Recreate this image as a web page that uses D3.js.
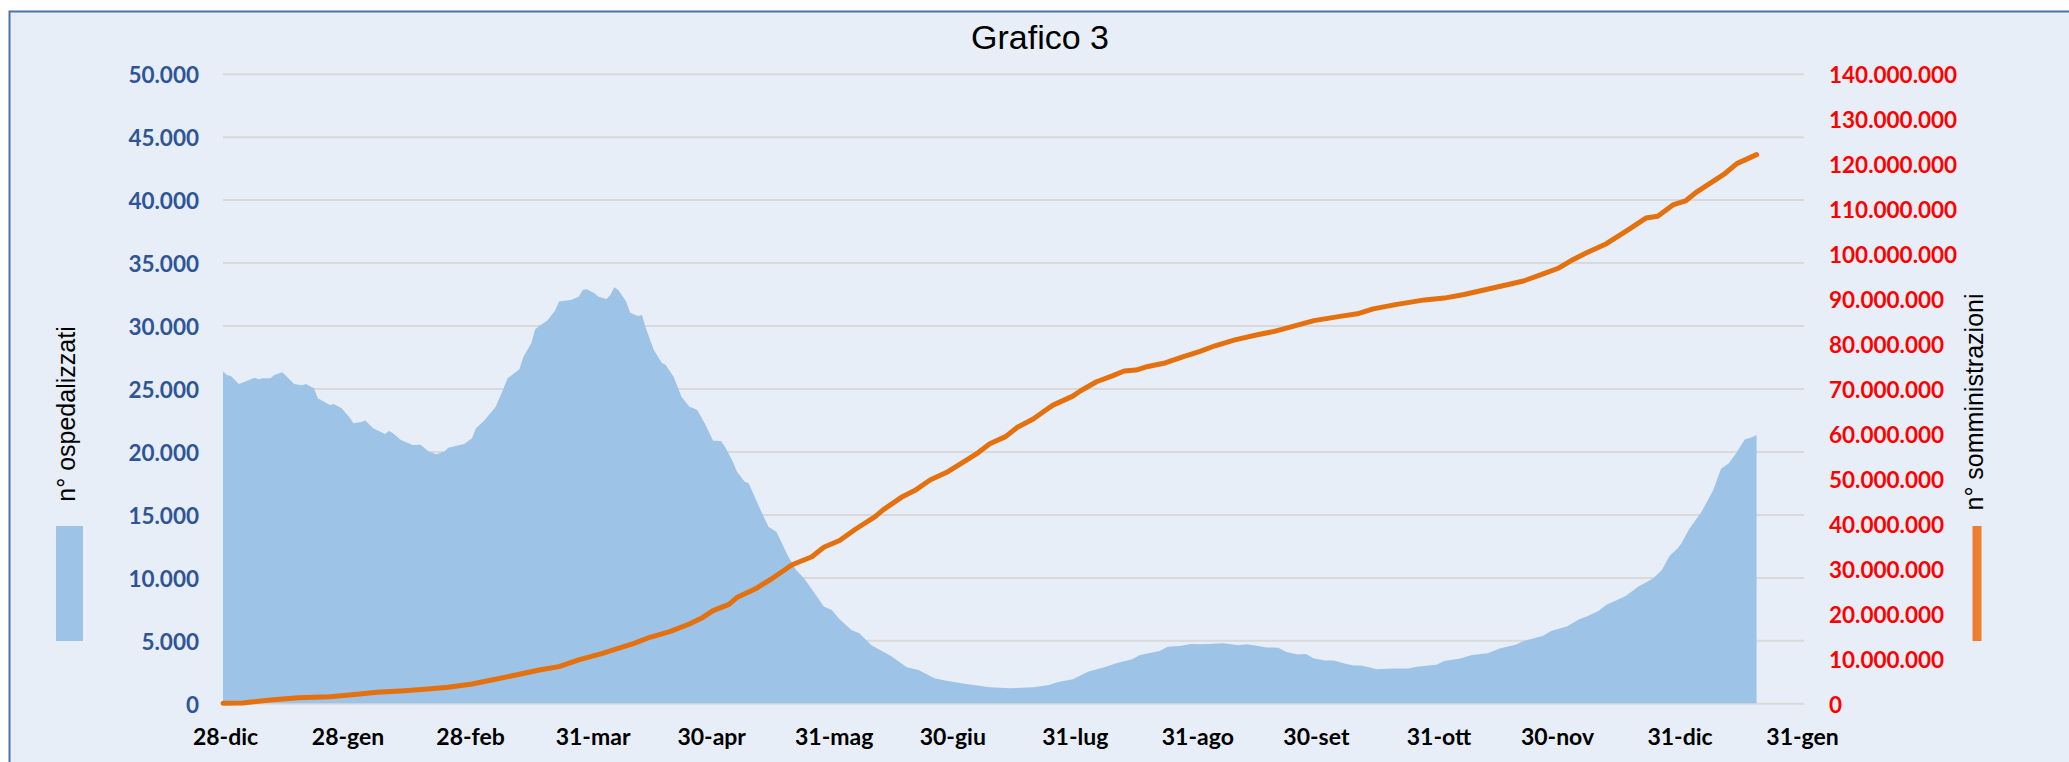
<!DOCTYPE html>
<html>
<head>
<meta charset="utf-8">
<script src="https://cdn.jsdelivr.net/npm/d3@7"></script>
<style>
  html, body { margin: 0; padding: 0; background: #ffffff; }
  svg { display: block; }
</style>
</head>
<body>
<svg id="chart" width="2069" height="762"></svg>
<script>
// ---------------- DATA ----------------
const startDate = "2020-12-28";

// n° ospedalizzati (day offset from startDate, value)
const hospDays = [0,1,2,4,6,8,9,10,12,13,15,16,18,20,21,23,24,27,28,30,32,33,35,36,38,41,42,43,45,48,50,52,54,56,57,58,61,63,64,66,69,71,72,75,76,78,79,80,82,84,85,88,90,91,92,94,95,97,98,99,100,102,103,105,106,107,109,111,112,114,116,118,119,120,122,124,126,127,129,130,
  132,133,136,138,140,143,145,147,150,152,154,156,159,161,164,167,169,173,176,180,183,188,194,199,205,209,211,215,219,223,226,230,232,237,239,242,245,248,253,257,259,262,
  264,267,269,272,274,276,279,281,284,286,288,292,296,300,302,307,309,313,316,320,323,327,329,334,336,340,343,345,348,350,353,355,358,360,362,364,366,368,369,371,374,376,377,379,381,383,385,387,388];
const hospValues = [26350,26070,25990,25360,25600,25860,25730,25810,25810,26070,26290,25990,25360,25250,25360,25010,24220,23690,23770,23430,22710,22240,22340,22450,21840,21390,21630,21440,20910,20510,20540,19990,19770,19990,20300,20380,20590,21040,21840,22420,23560,25010,25810,26520,27530,28590,29700,29960,30390,31180,31900,32030,32290,32820,32880,32560,32290,32110,32430,33040,32820,31900,31020,30760,30840,29780,28060,27050,26870,25940,24350,23560,23430,23290,22160,20860,20830,20380,19190,18400,
  17600,17470,15350,14030,13630,11650,10590,9930,8600,7680,7410,6670,5820,5560,4630,4100,3760,2860,2650,1990,1800,1540,1270,1190,1270,1460,1670,1910,2520,2860,3180,3490,3840,4160,4500,4550,4710,4690,4770,4610,4690,4550,
  4440,4410,4070,3870,3920,3550,3400,3400,3140,3000,3000,2710,2770,2770,2910,3060,3350,3550,3840,3980,4360,4640,4930,5360,5740,6090,6660,6890,7330,7820,8250,8540,9260,9600,9980,10560,11710,12290,12720,13870,15170,16320,16900,18630,19060,19930,20940,21140,21310];

// n° somministrazioni (cumulative doses)
const vaxDays = [0,5,12,19,27,32,39,46,51,57,63,68,75,80,85,90,96,100,104,108,113,118,121,124,128,130,135,139,144,149,152,156,160,165,167,172,175,179,183,188,191,194,198,201,205,208,210,215,217,221,225,228,231,234,238,243,247,251,256,262,266,270,276,283,287,291,297,304,309,314,321,326,329,334,338,341,345,350,355,360,363,367,370,373,376,380,383,388];
const vaxValues = [10000,90000,740000,1260000,1480000,1850000,2450000,2800000,3110000,3560000,4300000,5190000,6450000,7410000,8150000,9640000,11120000,12230000,13340000,14680000,15940000,17640000,18900000,20610000,22010000,23500000,25600000,27800000,30800000,32600000,34700000,36200000,38700000,41500000,43000000,46000000,47300000,49700000,51300000,54000000,55700000,57700000,59300000,61400000,63200000,65100000,66300000,68300000,69500000,71500000,72800000,73900000,74100000,74900000,75600000,77100000,78200000,79500000,80800000,82000000,82700000,83650000,85100000,86100000,86600000,87700000,88700000,89700000,90100000,90900000,92300000,93300000,93900000,95500000,96800000,98400000,100200000,102200000,105000000,107900000,108300000,110900000,111700000,113800000,115500000,117800000,120000000,122000000];

const xTickDates = ["2020-12-28","2021-01-28","2021-02-28","2021-03-31","2021-04-30","2021-05-31","2021-06-30","2021-07-31","2021-08-31","2021-09-30","2021-10-31","2021-11-30","2021-12-31","2022-01-31"];
const xTickLabels = ["28-dic","28-gen","28-feb","31-mar","30-apr","31-mag","30-giu","31-lug","31-ago","30-set","31-ott","30-nov","31-dic","31-gen"];
const leftTicks = [0,5000,10000,15000,20000,25000,30000,35000,40000,45000,50000];
const rightTicks = [0,10000000,20000000,30000000,40000000,50000000,60000000,70000000,80000000,90000000,100000000,110000000,120000000,130000000,140000000];

const titleText = "Grafico 3";
const leftTitle = "n° ospedalizzati";
const rightTitle = "n° somministrazioni";

// ---------------- CHART ----------------
const svg = d3.select("#chart");
const parse = d3.timeParse("%Y-%m-%d");
const t0 = parse(startDate);
const day = n => d3.timeDay.offset(t0, n);

const plot = { left: 223, right: 1804, top: 73.7, bottom: 703.3 };

const x = d3.scaleTime().domain([t0, day(400)]).range([plot.left, plot.right]);
const yL = d3.scaleLinear().domain([0, 50000]).range([plot.bottom, plot.top]);
const yR = d3.scaleLinear().domain([0, 140000000]).range([plot.bottom, plot.top]);

const it = d3.formatLocale({ decimal: ",", thousands: ".", grouping: [3], currency: ["€", ""] });
const fmt = it.format(",d");

// frame
svg.append("rect").attr("x", 9.5).attr("y", 11.5).attr("width", 2100).attr("height", 800)
  .attr("fill", "#E7EEF7").attr("stroke", "#4C74A6").attr("stroke-width", 2);

// gridlines
const grid = svg.append("g").attr("transform", `translate(${plot.left},0)`)
  .call(d3.axisLeft(yL).tickValues(leftTicks).tickSize(-(plot.right - plot.left)).tickFormat(""));
grid.select(".domain").remove();
grid.selectAll("line").attr("stroke", "#D9D9D9").attr("stroke-width", 2);

// area
const hosp = hospDays.map((d, i) => ({ date: day(d), v: hospValues[i] }));
svg.append("path").datum(hosp)
  .attr("fill", "#9DC3E6")
  .attr("d", d3.area().x(d => x(d.date)).y0(yL(0)).y1(d => yL(d.v)));

// line
const vax = vaxDays.map((d, i) => ({ date: day(d), v: vaxValues[i] }));
svg.append("path").datum(vax)
  .attr("fill", "none").attr("stroke", "#E5700E").attr("stroke-width", 5)
  .attr("stroke-linejoin", "round").attr("stroke-linecap", "round")
  .attr("d", d3.line().x(d => x(d.date)).y(d => yR(d.v)));

const tickFont = "Lato, 'Open Sans', sans-serif";

// left axis labels
const la = svg.append("g").attr("transform", `translate(${plot.left},0)`)
  .call(d3.axisLeft(yL).tickValues(leftTicks).tickSize(0).tickPadding(24).tickFormat(fmt));
la.select(".domain").remove();
la.selectAll("text").attr("dy", null).attr("y", 9)
  .attr("fill", "#2F5597").attr("font-family", tickFont).attr("font-weight", "bold").attr("font-size", 22.5);

// right axis labels
const ra = svg.append("g").attr("transform", `translate(${plot.right},0)`)
  .call(d3.axisRight(yR).tickValues(rightTicks).tickSize(0).tickPadding(25).tickFormat(fmt));
ra.select(".domain").remove();
ra.selectAll("text").attr("dy", null).attr("y", 9)
  .attr("fill", "#FF0000").attr("font-family", tickFont).attr("font-weight", "bold").attr("font-size", 22.5);

// bottom axis labels
const xa = svg.append("g").attr("transform", `translate(0,${plot.bottom})`)
  .call(d3.axisBottom(x).tickValues(xTickDates.map(parse)).tickSize(0)
    .tickFormat((d, i) => xTickLabels[i]));
xa.select(".domain").remove();
xa.selectAll("text").attr("dy", null).attr("y", 42).attr("x", 2)
  .attr("fill", "#000000").attr("font-family", tickFont).attr("font-weight", "bold").attr("font-size", 23);

// title
svg.append("text").attr("x", 1040).attr("y", 49).attr("text-anchor", "middle")
  .attr("font-family", "'Liberation Sans', Arial, sans-serif").attr("font-size", 34).attr("fill", "#000")
  .text(titleText);

// axis titles
svg.append("text").attr("transform", "translate(75,414) rotate(-90)").attr("text-anchor", "middle")
  .attr("font-family", "'Liberation Sans', Arial, sans-serif").attr("font-size", 25).attr("fill", "#000")
  .text(leftTitle);
svg.append("text").attr("transform", "translate(1983,402) rotate(-90)").attr("text-anchor", "middle")
  .attr("font-family", "'Liberation Sans', Arial, sans-serif").attr("font-size", 25).attr("fill", "#000")
  .text(rightTitle);

// legend swatches
svg.append("rect").attr("x", 56).attr("y", 526).attr("width", 27).attr("height", 115).attr("fill", "#9DC3E6");
svg.append("rect").attr("x", 1972.5).attr("y", 526).attr("width", 9).attr("height", 115).attr("fill", "#ED7D31");
</script>
</body>
</html>
